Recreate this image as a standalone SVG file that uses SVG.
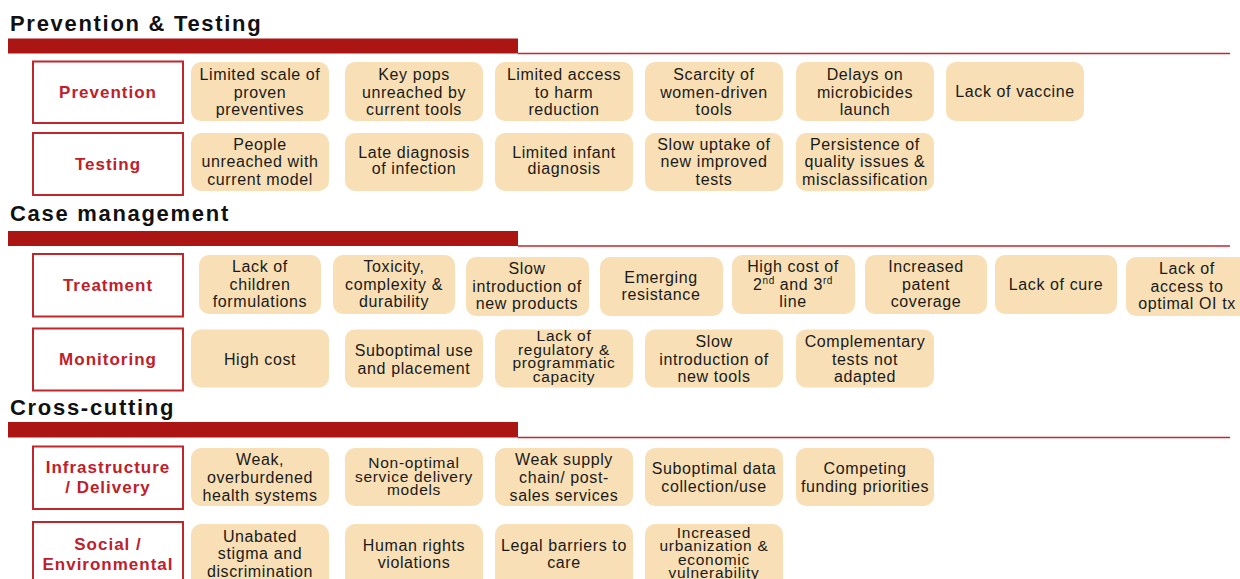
<svg xmlns="http://www.w3.org/2000/svg" width="1240" height="579" viewBox="0 0 1240 579">
<style>
.sec{font-family:"Liberation Sans",Arial,sans-serif;font-weight:bold;font-size:22px;letter-spacing:1.7px;fill:#111}
.bar{fill:#ab1513}
.rule{stroke:#c8262c;stroke-width:1.3}
.lab rect{fill:#fff;stroke:#c0272d;stroke-width:2}
.lab text{font-family:"Liberation Sans",Arial,sans-serif;font-weight:bold;font-size:17px;fill:#c0202a;text-anchor:middle;letter-spacing:1px}
.node rect{fill:#f8dfb5}
.node text{font-family:"Liberation Sans",Arial,sans-serif;font-size:16px;fill:#1a1a1a;text-anchor:middle;letter-spacing:0.6px}
.node text.tight{font-size:15.5px;letter-spacing:0.7px}
.sup{font-size:10px}
</style>
<rect width="1240" height="579" fill="#fff"/>

<!-- Section headers -->
<g id="sec-prevention-testing">
<text class="sec" x="10" y="31">Prevention &amp; Testing</text>
<rect class="bar" x="8" y="38.5" width="510" height="15"/>
<line class="rule" x1="518" y1="53.5" x2="1230" y2="53.5"/>
</g>
<g id="sec-case-management">
<text class="sec" x="10" y="221">Case management</text>
<rect class="bar" x="8" y="231" width="510" height="15"/>
<line class="rule" x1="518" y1="246" x2="1230" y2="246"/>
</g>
<g id="sec-cross-cutting">
<text class="sec" x="10" y="415">Cross-cutting</text>
<rect class="bar" x="8" y="422" width="510" height="15.5"/>
<line class="rule" x1="518" y1="437.5" x2="1230" y2="437.5"/>
</g>

<!-- Row labels -->
<g id="lab-prevention" class="lab"><rect x="33" y="61.5" width="150" height="61.5"/><text x="108" y="98">Prevention</text></g>
<g id="lab-testing" class="lab"><rect x="33" y="133" width="150" height="62"/><text x="108" y="169.5">Testing</text></g>
<g id="lab-treatment" class="lab"><rect x="33" y="254" width="150" height="62.5"/><text x="108" y="291">Treatment</text></g>
<g id="lab-monitoring" class="lab"><rect x="33" y="328.5" width="150" height="62"/><text x="108" y="365">Monitoring</text></g>
<g id="lab-infrastructure" class="lab"><rect x="33" y="446.5" width="150" height="62.5"/><text x="108" y="473">Infrastructure</text><text x="108" y="493">/ Delivery</text></g>
<g id="lab-social" class="lab"><rect x="33" y="522" width="150" height="70"/><text x="108" y="550">Social /</text><text x="108" y="569.5">Environmental</text></g>

<!-- Prevention row -->
<g id="p1" class="node"><rect x="191" y="62" width="138" height="59" rx="10"/><text x="260" y="80">Limited scale of</text><text x="260" y="97.5">proven</text><text x="260" y="115">preventives</text></g>
<g id="p2" class="node"><rect x="345" y="62" width="138" height="59" rx="10"/><text x="414" y="80">Key pops</text><text x="414" y="97.5">unreached by</text><text x="414" y="115">current tools</text></g>
<g id="p3" class="node"><rect x="495" y="62" width="138" height="59" rx="10"/><text x="564" y="80">Limited access</text><text x="564" y="97.5">to harm</text><text x="564" y="115">reduction</text></g>
<g id="p4" class="node"><rect x="645" y="62" width="138" height="59" rx="10"/><text x="714" y="80">Scarcity of</text><text x="714" y="97.5">women-driven</text><text x="714" y="115">tools</text></g>
<g id="p5" class="node"><rect x="796" y="62" width="138" height="59" rx="10"/><text x="865" y="80">Delays on</text><text x="865" y="97.5">microbicides</text><text x="865" y="115">launch</text></g>
<g id="p6" class="node"><rect x="946" y="62" width="138" height="59" rx="10"/><text x="1015" y="97">Lack of vaccine</text></g>

<!-- Testing row -->
<g id="t1" class="node"><rect x="191" y="133" width="138" height="58" rx="10"/><text x="260" y="149.5">People</text><text x="260" y="167">unreached with</text><text x="260" y="184.5">current model</text></g>
<g id="t2" class="node"><rect x="345" y="133" width="138" height="58" rx="10"/><text x="414" y="158">Late diagnosis</text><text x="414" y="174">of infection</text></g>
<g id="t3" class="node"><rect x="495" y="133" width="138" height="58" rx="10"/><text x="564" y="158">Limited infant</text><text x="564" y="174">diagnosis</text></g>
<g id="t4" class="node"><rect x="645" y="133" width="138" height="58" rx="10"/><text x="714" y="149.5">Slow uptake of</text><text x="714" y="167">new improved</text><text x="714" y="184.5">tests</text></g>
<g id="t5" class="node"><rect x="796" y="133" width="138" height="58" rx="10"/><text x="865" y="149.5">Persistence of</text><text x="865" y="167">quality issues &amp;</text><text x="865" y="184.5">misclassification</text></g>

<!-- Treatment row -->
<g id="tr1" class="node"><rect x="199" y="255" width="122" height="59" rx="10"/><text x="260" y="272">Lack of</text><text x="260" y="290">children</text><text x="260" y="307">formulations</text></g>
<g id="tr2" class="node"><rect x="333" y="255" width="122" height="59" rx="10"/><text x="394" y="272">Toxicity,</text><text x="394" y="290">complexity &amp;</text><text x="394" y="307">durability</text></g>
<g id="tr3" class="node"><rect x="466" y="257" width="123" height="59" rx="10"/><text x="527" y="274">Slow</text><text x="527" y="292">introduction of</text><text x="527" y="309">new products</text></g>
<g id="tr4" class="node"><rect x="600" y="257" width="123" height="59" rx="10"/><text x="661" y="282.5">Emerging</text><text x="661" y="300">resistance</text></g>
<g id="tr5" class="node"><rect x="732" y="255" width="123" height="59" rx="10"/><text x="793" y="272">High cost of</text><text x="793" y="290">2<tspan class="sup" dy="-6">nd</tspan><tspan dy="6">  and 3</tspan><tspan class="sup" dy="-6">rd</tspan></text><text x="793" y="307">line</text></g>
<g id="tr6" class="node"><rect x="865" y="255" width="122" height="59" rx="10"/><text x="926" y="272">Increased</text><text x="926" y="290">patent</text><text x="926" y="307">coverage</text></g>
<g id="tr7" class="node"><rect x="995" y="255" width="122" height="59" rx="10"/><text x="1056" y="290">Lack of cure</text></g>
<g id="tr8" class="node"><rect x="1126" y="257" width="124" height="59" rx="10"/><text x="1187" y="274">Lack of</text><text x="1187" y="292">access to</text><text x="1187" y="309">optimal OI tx</text></g>

<!-- Monitoring row -->
<g id="m1" class="node"><rect x="191" y="329.5" width="138" height="58" rx="10"/><text x="260" y="364.5">High cost</text></g>
<g id="m2" class="node"><rect x="345" y="329.5" width="138" height="58" rx="10"/><text x="414" y="355.5">Suboptimal use</text><text x="414" y="373.5">and placement</text></g>
<g id="m3" class="node"><rect x="495" y="329.5" width="138" height="58" rx="10"/><text class="tight" x="564" y="341">Lack of</text><text class="tight" x="564" y="354.5">regulatory &amp;</text><text class="tight" x="564" y="368">programmatic</text><text class="tight" x="564" y="381.5">capacity</text></g>
<g id="m4" class="node"><rect x="645" y="329.5" width="138" height="58" rx="10"/><text x="714" y="347">Slow</text><text x="714" y="364.5">introduction of</text><text x="714" y="382">new tools</text></g>
<g id="m5" class="node"><rect x="796" y="329.5" width="138" height="58" rx="10"/><text x="865" y="347">Complementary</text><text x="865" y="364.5">tests not</text><text x="865" y="382">adapted</text></g>

<!-- Infrastructure row -->
<g id="i1" class="node"><rect x="191" y="448" width="138" height="58" rx="10"/><text x="260" y="465">Weak,</text><text x="260" y="483">overburdened</text><text x="260" y="500.5">health systems</text></g>
<g id="i2" class="node"><rect x="345" y="448" width="138" height="58" rx="10"/><text class="tight" x="414" y="468">Non-optimal</text><text class="tight" x="414" y="481.5">service delivery</text><text class="tight" x="414" y="495">models</text></g>
<g id="i3" class="node"><rect x="495" y="448" width="138" height="58" rx="10"/><text x="564" y="465">Weak supply</text><text x="564" y="483">chain/ post-</text><text x="564" y="500.5">sales services</text></g>
<g id="i4" class="node"><rect x="645" y="448" width="138" height="58" rx="10"/><text x="714" y="474">Suboptimal data</text><text x="714" y="492">collection/use</text></g>
<g id="i5" class="node"><rect x="796" y="448" width="138" height="58" rx="10"/><text x="865" y="474">Competing</text><text x="865" y="492">funding priorities</text></g>

<!-- Social row -->
<g id="s1" class="node"><rect x="191" y="524" width="138" height="66" rx="10"/><text x="260" y="541.5">Unabated</text><text x="260" y="559">stigma and</text><text x="260" y="576.5">discrimination</text></g>
<g id="s2" class="node"><rect x="345" y="524" width="138" height="66" rx="10"/><text x="414" y="550.5">Human rights</text><text x="414" y="568">violations</text></g>
<g id="s3" class="node"><rect x="495" y="524" width="138" height="66" rx="10"/><text x="564" y="550.5">Legal barriers to</text><text x="564" y="568">care</text></g>
<g id="s4" class="node"><rect x="645" y="524" width="138" height="66" rx="10"/><text class="tight" x="714" y="537.5">Increased</text><text class="tight" x="714" y="551">urbanization &amp;</text><text class="tight" x="714" y="564.5">economic</text><text class="tight" x="714" y="578">vulnerability</text></g>
</svg>
